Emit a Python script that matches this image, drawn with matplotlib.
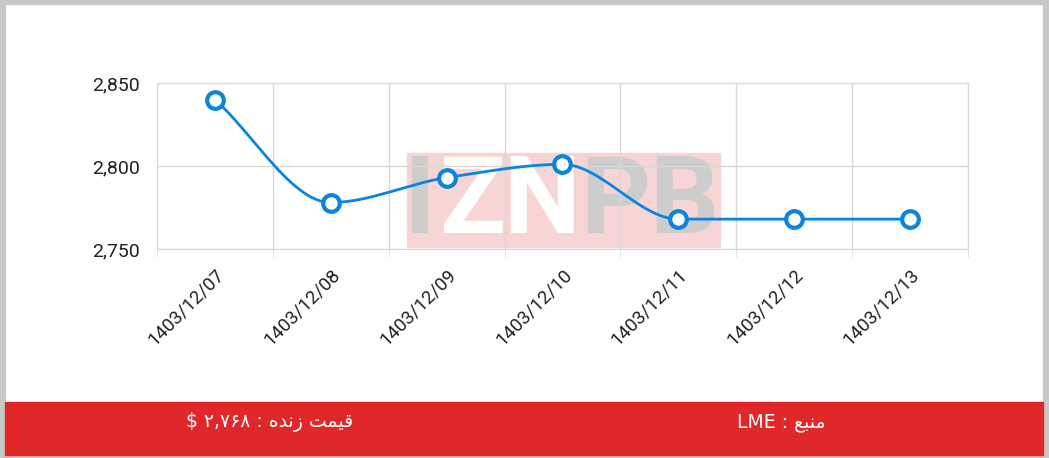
import numpy as np
import matplotlib
matplotlib.use('Agg')
from matplotlib import pyplot as plt
from matplotlib.patches import Rectangle
from matplotlib.transforms import ScaledTranslation

dates = ['1403/12/07', '1403/12/08', '1403/12/09', '1403/12/10',
         '1403/12/11', '1403/12/12', '1403/12/13']
prices = [2840, 2778, 2793, 2801, 2768, 2768, 2768]
yticks = [2750, 2800, 2850]

# footer texts, already shaped (presentation forms) and put in visual order
price_label = '$ \u06f2,\u06f7\u06f6\u06f8 : ' + '\ufee9\ufeaa\ufee7\ufeaf' + ' ' + '\ufe96\ufee4\ufef4\ufed7'
source_label = 'LME : ' + '\ufeca\ufe92\ufee8\ufee3'

BLUE = '#0a84de'
RED = '#e0282a'


def pchip(x, y, xs):
    # monotone cubic (Fritsch-Carlson) for drawing the smooth line
    x = np.asarray(x, float)
    y = np.asarray(y, float)
    h = np.diff(x)
    d = np.diff(y) / h
    m = np.zeros_like(y)
    m[0], m[-1] = d[0], d[-1]
    for k in range(1, len(y) - 1):
        if d[k - 1] * d[k] > 0:
            m[k] = 2 / (1 / d[k - 1] + 1 / d[k])
    for k in range(len(d)):
        if d[k] == 0:
            m[k] = m[k + 1] = 0
    idx = np.clip(np.searchsorted(x, xs) - 1, 0, len(h) - 1)
    t = (xs - x[idx]) / h[idx]
    h00 = 2 * t**3 - 3 * t**2 + 1
    h10 = t**3 - 2 * t**2 + t
    h01 = -2 * t**3 + 3 * t**2
    h11 = t**3 - t**2
    return h00 * y[idx] + h10 * h[idx] * m[idx] + h01 * y[idx + 1] + h11 * h[idx] * m[idx + 1]


W, H = 1049, 458
fig = plt.figure(figsize=(W / 100, H / 100), dpi=100)
fig.patch.set_facecolor('white')


def px_rect(x0, y0, w, h, **kw):
    # rectangle in pixel coords measured from the top-left corner
    return Rectangle((x0 / W, 1 - (y0 + h) / H), w / W, h / H, transform=fig.transFigure, **kw)


# grey frame
for r in [(0, 0, 5, H), (W - 6, 0, 6, H), (0, H - 3, W, 3), (0, 0, W, 4)]:
    fig.patches.append(px_rect(*r, color='#c8c8c8', zorder=0))

# red footer
fig.patches.append(px_rect(5, 402, 1038, 53, color=RED, zorder=1))
fig.text(270 / W, 1 - 422 / H, price_label, color='white', fontsize=13.5,
         ha='center', va='center', family='DejaVu Sans')
fig.text(781 / W, 1 - 422 / H, source_label, color='white', fontsize=13.5,
         ha='center', va='center', family='DejaVu Sans')

# watermark (behind the axes)
fig.patches.append(px_rect(407, 153, 313, 94, color='#f8d5d5', zorder=0.2))
for ch, cx, col in [('I', 419, '#cdcdcd'), ('Z', 472, 'white'), ('N', 541, 'white'),
                    ('P', 615, '#cdcdcd'), ('B', 684, '#cdcdcd')]:
    fig.text(cx / W, 1 - 204 / H, ch, fontsize=78, fontweight='bold', color=col,
             ha='center', va='center', family='Roboto', zorder=0.3)

ax = fig.add_axes([157 / W, 1 - 249 / H, (968 - 157) / W, (249 - 83) / H])
ax.set_zorder(2)
ax.set_facecolor('none')
x = np.arange(len(dates))
ax.set_xlim(-0.5, len(dates) - 0.5)
ax.set_ylim(yticks[0], yticks[-1])

xs = np.linspace(0, len(dates) - 1, 600)
ax.plot(xs, pchip(x, prices, xs), color=BLUE, lw=2, zorder=3)
ax.plot(x, prices, 'o', ms=12, mfc='white', mec=BLUE, mew=3, zorder=4, clip_on=False)

ax.set_xticks(x)
ax.set_xticklabels(dates, rotation=45, ha='right', rotation_mode='anchor',
                   fontsize=13.5, family='Roboto', color='#222222')
shift = ScaledTranslation(20 / 100, 0, fig.dpi_scale_trans)
for lbl in ax.get_xticklabels():
    lbl.set_transform(lbl.get_transform() + shift)
ax.set_xticks(np.arange(-0.5, len(dates)), minor=True)
ax.set_yticks(yticks)
ax.set_yticklabels([f'{v:,}' for v in yticks], fontsize=14, family='Roboto', color='#222222')
ax.tick_params(axis='x', which='major', length=0, pad=12)
ax.tick_params(axis='x', which='minor', length=6, color='#dddddd')
ax.tick_params(axis='y', length=0, pad=12)
ax.grid(True, which='minor', axis='x', color='#d8d8d8', lw=1)
ax.grid(True, which='major', axis='y', color='#d8d8d8', lw=1)
for s in ax.spines.values():
    s.set_color('#d8d8d8')

fig.savefig('out.png', dpi=100)
